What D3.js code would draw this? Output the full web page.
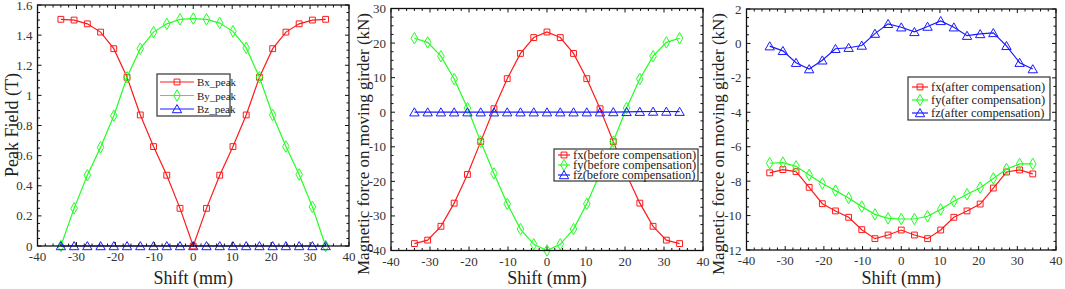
<!DOCTYPE html>
<html>
<head>
<meta charset="utf-8">
<script src="https://cdn.jsdelivr.net/npm/d3@7"></script>
<style>
  body { margin: 0; background: #fff; }
  svg { display: block; }
</style>
</head>
<body>
<div id="chart"></div>
<script>
// Shift positions (mm)
const shift = [-34, -30.6, -27.2, -23.8, -20.4, -17, -13.6, -10.2, -6.8, -3.4, 0,
               3.4, 6.8, 10.2, 13.6, 17, 20.4, 23.8, 27.2, 30.6, 34];

// Panel 1: peak field (T)
const bxPeak = [1.505, 1.50, 1.475, 1.42, 1.31, 1.12, 0.87, 0.66, 0.47, 0.25, 0.0,
                0.25, 0.47, 0.66, 0.87, 1.12, 1.31, 1.42, 1.475, 1.50, 1.505];
const byPeak = [0.0, 0.25, 0.47, 0.655, 0.865, 1.12, 1.31, 1.42, 1.475, 1.505, 1.51,
                1.505, 1.48, 1.425, 1.315, 1.12, 0.87, 0.66, 0.475, 0.26, 0.0];
const bzPeak = [0, 0, 0, 0, 0, 0, 0, 0, 0, 0, 0, 0, 0, 0, 0, 0, 0, 0, 0, 0, 0];

// Panel 2: force before compensation (kN)
const fxBefore = [-38, -37, -33, -26.3, -18, -8.5, 1, 9.7, 17, 21.6, 23.2,
                  21.6, 17, 9.7, 1, -8.5, -18, -26.3, -33, -37, -38];
const fyBefore = [21.4, 20.2, 16.2, 9.6, 1.2, -8.5, -17.7, -26.5, -33.8, -38.2, -40,
                  -38.2, -33.8, -26.5, -17.7, -8.5, 1.2, 9.6, 16.2, 20.2, 21.4];
const fzBefore = [0, 0, 0, 0, 0, 0, 0, 0, 0, 0, 0, 0, 0, 0, 0, 0.05, 0.1, 0.15, 0.2, 0.2, 0.15];

// Panel 3: force after compensation (kN)
const fxAfter = [-7.52, -7.33, -7.45, -8.36, -9.31, -9.73, -10.1, -10.82, -11.34, -11.13, -10.84,
                 -11.13, -11.34, -10.84, -10.1, -9.73, -9.33, -8.4, -7.47, -7.35, -7.58];
const fyAfter = [-6.96, -6.92, -7.14, -7.64, -8.14, -8.55, -8.98, -9.48, -9.93, -10.16, -10.2,
                 -10.2, -10.04, -9.64, -9.17, -8.76, -8.38, -7.84, -7.29, -7.0, -7.0];
const fzAfter = [-0.16, -0.43, -1.12, -1.49, -0.98, -0.31, -0.25, -0.12, 0.57, 1.14, 0.94,
                 0.67, 0.98, 1.31, 0.94, 0.45, 0.55, 0.61, -0.14, -1.12, -1.49];

const xTicks = [-40, -30, -20, -10, 0, 10, 20, 30, 40];

const RED = "#ff1a1a", GREEN = "#22ff22", BLUE = "#1a1aff";
const FONT = "'Liberation Serif', 'DejaVu Serif', serif";
const markers = { sq: d3.symbolSquare, di: d3.symbolDiamond, tri: d3.symbolTriangle };

const svg = d3.select("#chart").append("svg")
  .attr("width", 1065).attr("height", 289)
  .style("font-family", FONT);

function drawPanel(p) {
  const x = d3.scaleLinear().domain([-40, 40]).range(p.xr);
  const y = d3.scaleLinear().domain(p.yd).range(p.yr);
  const g = svg.append("g");

  // series
  p.series.forEach(s => {
    const pts = shift.map((v, i) => [v, s.values[i]]);
    g.append("path")
     .datum(pts)
     .attr("fill", "none")
     .attr("stroke", s.color)
     .attr("stroke-width", 1.2)
     .attr("d", d3.line().x(d => x(d[0])).y(d => y(d[1])));
    g.selectAll(null)
     .data(pts)
     .enter()
     .append("path")
     .attr("transform", d => `translate(${x(d[0])},${y(d[1]) + (s.m === "tri" ? 1 : 0)})`)
     .attr("d", d3.symbol().type(markers[s.m]).size(s.m === "sq" ? 34 : 38))
     .attr("fill", "none")
     .attr("stroke", s.color)
     .attr("stroke-width", 1);
  });

  // box + inward ticks
  const [x0, x1] = p.xr, [y0, y1] = p.yr;
  const xMinor = d3.range(-40, 40.1, 2);
  const yMinor = d3.range(p.yd[0], p.yd[1] + 1e-9, p.yMinor);
  const tk = g.append("g").attr("stroke", "#111").attr("stroke-width", 1);
  xMinor.forEach(v => {
    const len = xTicks.includes(v) ? 4 : 2.5;
    tk.append("line").attr("x1", x(v)).attr("x2", x(v)).attr("y1", y0).attr("y2", y0 - len);
    tk.append("line").attr("x1", x(v)).attr("x2", x(v)).attr("y1", y1).attr("y2", y1 + len);
  });
  yMinor.forEach(v => {
    const major = p.yTicks.some(t => Math.abs(t - v) < 1e-9);
    const len = major ? 4 : 2.5;
    tk.append("line").attr("x1", x0).attr("x2", x0 + len).attr("y1", y(v)).attr("y2", y(v));
    tk.append("line").attr("x1", x1).attr("x2", x1 - len).attr("y1", y(v)).attr("y2", y(v));
  });
  g.append("rect")
   .attr("x", x0).attr("y", y1)
   .attr("width", x1 - x0).attr("height", y0 - y1)
   .attr("fill", "none").attr("stroke", "#111").attr("stroke-width", 1.3);

  // tick labels
  g.selectAll(null).data(xTicks).enter().append("text")
   .attr("x", d => x(d)).attr("y", y0 + 15)
   .attr("text-anchor", "middle").attr("font-size", 13).attr("fill", "#333")
   .text(d => d);
  g.selectAll(null).data(p.yTicks).enter().append("text")
   .attr("x", x0 - 5).attr("y", d => y(d) + 4.5)
   .attr("text-anchor", "end").attr("font-size", 13).attr("fill", "#333")
   .text(p.fmt);

  // axis titles
  g.append("text")
   .attr("x", (x0 + x1) / 2).attr("y", 284)
   .attr("text-anchor", "middle").attr("font-size", 18).attr("fill", "#222")
   .text("Shift (mm)");
  g.append("text")
   .attr("transform", `translate(${p.ylabX},${p.ylabY}) rotate(-90)`)
   .attr("text-anchor", "middle").attr("font-size", p.ylabFs).attr("fill", "#222")
   .text(p.ylabel);

  // legend
  const L = p.legend;
  const lg = g.append("g").attr("transform", `translate(${L.x},${L.y})`);
  lg.append("rect")
    .attr("width", L.w).attr("height", L.h)
    .attr("fill", "#fff").attr("stroke", "#333").attr("stroke-width", 1.2);
  p.series.forEach((s, i) => {
    const cy = L.top + i * L.step;
    lg.append("line")
      .attr("x1", L.lineX0).attr("x2", L.lineX1).attr("y1", cy).attr("y2", cy)
      .attr("stroke", s.color).attr("stroke-width", 1.2);
    lg.append("path")
      .attr("transform", `translate(${(L.lineX0 + L.lineX1) / 2},${cy + (s.m === "tri" ? 1 : 0)})`)
      .attr("d", d3.symbol().type(markers[s.m]).size(s.m === "sq" ? 34 : 38))
      .attr("fill", "none").attr("stroke", s.color);
    lg.append("text")
      .attr("x", L.lineX1 + 3).attr("y", cy + 4)
      .attr("font-size", L.fs).attr("fill", "#222")
      .text(s.name);
  });
}

drawPanel({
  xr: [37.5, 349], yr: [246, 5], yd: [0, 1.6],
  yTicks: d3.range(0, 1.61, 0.2).map(v => +v.toFixed(1)), yMinor: 0.05,
  fmt: d => String(+d.toFixed(1)),
  ylabel: "Peak Field (T)", ylabX: 18, ylabY: 125, ylabFs: 18,
  legend: { x: 157, y: 74, w: 73, h: 42, top: 8, step: 13.5, lineX0: 3, lineX1: 37, fs: 11 },
  series: [
    { name: "Bx_peak", values: bxPeak, color: RED, m: "sq" },
    { name: "By_peak", values: byPeak, color: GREEN, m: "di" },
    { name: "Bz_peak", values: bzPeak, color: BLUE, m: "tri" }
  ]
});

drawPanel({
  xr: [391, 703], yr: [250.5, 8.5], yd: [-40, 30],
  yTicks: d3.range(-40, 31, 10), yMinor: 2.5,
  fmt: d => d,
  ylabel: "Magnetic force on moving girder (kN)", ylabX: 369, ylabY: 144, ylabFs: 17,
  legend: { x: 554, y: 149, w: 144, h: 32, top: 6, step: 10, lineX0: 4, lineX1: 16, fs: 12.5 },
  series: [
    { name: "fx(before compensation)", values: fxBefore, color: RED, m: "sq" },
    { name: "fy(before compensation)", values: fyBefore, color: GREEN, m: "di" },
    { name: "fz(before compensation)", values: fzBefore, color: BLUE, m: "tri" }
  ]
});

drawPanel({
  xr: [746.5, 1056], yr: [250, 9], yd: [-12, 2],
  yTicks: d3.range(-12, 2.1, 2), yMinor: 0.5,
  fmt: d => d,
  ylabel: "Magnetic force on moving girder (kN)", ylabX: 724, ylabY: 144, ylabFs: 17,
  legend: { x: 908, y: 77, w: 142, h: 43, top: 10, step: 13, lineX0: 4, lineX1: 20, fs: 12.5 },
  series: [
    { name: "fx(after compensation)", values: fxAfter, color: RED, m: "sq" },
    { name: "fy(after compensation)", values: fyAfter, color: GREEN, m: "di" },
    { name: "fz(after compensation)", values: fzAfter, color: BLUE, m: "tri" }
  ]
});
</script>
</body>
</html>
